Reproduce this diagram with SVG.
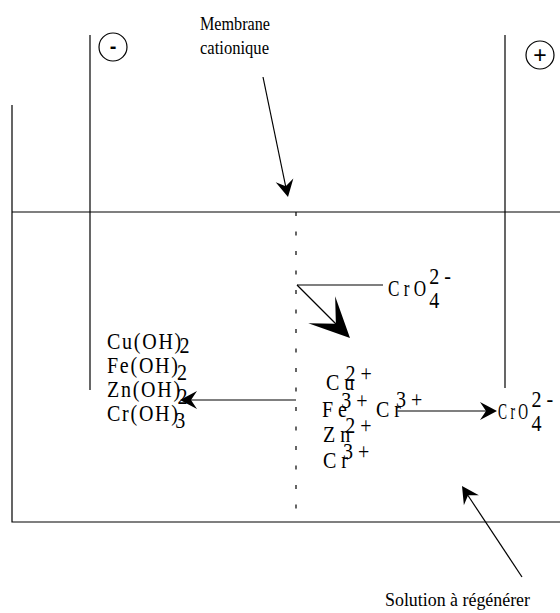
<svg xmlns="http://www.w3.org/2000/svg" width="560" height="613" viewBox="0 0 560 613">
<style>
.ln{stroke:#000;stroke-width:1.2;fill:none}
.gr{stroke:#555;stroke-width:1.3;fill:none}
.c{font-family:"Liberation Serif","Times New Roman",serif;font-size:23px;fill:#000}
.lbl{font-family:"Liberation Serif","Times New Roman",serif;font-size:19px;fill:#000}
.ls{letter-spacing:2px}
.ah{fill:#000;stroke:none}
.sym{font-family:"Liberation Sans",Arial,sans-serif;fill:#000}
</style>
<defs>
<path id="head" d="M0,0 L-17,-9 L-11,0 L-17,9 Z"/>
<path id="bighead" d="M0,0 L-40,-19 L-20,0 L-40,19 Z"/>
</defs>
<rect x="0" y="0" width="560" height="613" fill="#fff"/>
<g id="tank">
<path class="ln" d="M12,105 V522 H560"/>
<line class="ln" x1="12" y1="212" x2="560" y2="212"/>
</g>
<g id="cathode">
<line class="ln" x1="90" y1="35" x2="90" y2="390"/>
<circle class="ln" cx="113" cy="47" r="14"/>
<text class="sym" x="113" y="53" text-anchor="middle" font-size="20" font-weight="bold">-</text>
</g>
<g id="anode">
<line class="ln" x1="505" y1="35" x2="505" y2="388"/>
<circle class="ln" cx="540" cy="55" r="14"/>
<text class="sym" x="540" y="63" text-anchor="middle" font-size="23">+</text>
</g>
<g id="membrane">
<line x1="296" y1="212" x2="296" y2="522" stroke="#000" stroke-width="1.2" stroke-dasharray="4 15.5"/>
<text class="lbl" x="200" y="30" textLength="70" lengthAdjust="spacingAndGlyphs">Membrane</text>
<text class="lbl" x="200" y="54" textLength="69" lengthAdjust="spacingAndGlyphs">cationique</text>
</g>
<g id="chromate-top">
<text class="c" transform="translate(388,296) scale(0.87,1)"><tspan textLength="43.7" lengthAdjust="spacingAndGlyphs">C r O</tspan><tspan x="47.5" dy="-12">2 -</tspan><tspan x="47.5" dy="24">4</tspan></text>
</g>
<g id="hydroxides">
<text class="c ls" transform="translate(107,349) scale(0.87,1)">Cu(OH)<tspan dx="-4" dy="4">2</tspan></text>
<text class="c ls" transform="translate(107,373) scale(0.87,1)">Fe(OH)<tspan dx="-3" dy="7">2</tspan></text>
<text class="c ls" transform="translate(107,397) scale(0.87,1)">Zn(OH)<tspan dx="-5" dy="7">2</tspan></text>
<text class="c ls" transform="translate(107,421) scale(0.87,1)">Cr(OH)<tspan dx="-5" dy="7">3</tspan></text>
</g>
<g id="cations">
<text class="c" transform="translate(326,390) scale(0.87,1)">C u<tspan x="22.5" dy="-9">2 +</tspan></text>
<text class="c" transform="translate(322,417) scale(0.87,1)">F e<tspan x="22" dy="-9">3 +</tspan></text>
<text class="c" transform="translate(323,442) scale(0.87,1)">Z n<tspan x="25.5" dy="-9">2 +</tspan></text>
<text class="c" transform="translate(323,468) scale(0.87,1)">C r<tspan x="23" dy="-9">3 +</tspan></text>
</g>
<g id="cr3">
<text class="c" transform="translate(376,417) scale(0.87,1)">C r<tspan x="23" dy="-10">3 +</tspan></text>
</g>
<g id="chromate-right">
<text class="c" transform="translate(498,419) scale(0.87,1)"><tspan textLength="34.5" lengthAdjust="spacingAndGlyphs">C r O</tspan><tspan x="38.5" dy="-12">2 -</tspan><tspan x="38.5" dy="24">4</tspan></text>
</g>
<g id="solution-label">
<text class="lbl" x="385" y="606" font-size="20" textLength="145" lengthAdjust="spacingAndGlyphs">Solution à régénérer</text>
</g>
<g id="connectors">
<line class="ln" x1="263" y1="77" x2="286" y2="188"/>
<use href="#head" class="ah" transform="translate(288,197) rotate(78.2)"/>
<line class="gr" x1="297" y1="285" x2="383" y2="285"/>
<line class="ln" x1="297" y1="285" x2="336" y2="324"/>
<use href="#bighead" class="ah" transform="translate(350,338) rotate(45)"/>
<line class="gr" x1="190" y1="400" x2="296" y2="400"/>
<use href="#head" class="ah" transform="translate(180,400) rotate(180)"/>
<line class="gr" x1="397" y1="411" x2="487" y2="411"/>
<use href="#head" class="ah" transform="translate(497,411)"/>
<line class="ln" x1="522" y1="577" x2="467" y2="494"/>
<use href="#head" class="ah" transform="translate(462,486) rotate(236.5)"/>
</g>
</svg>
